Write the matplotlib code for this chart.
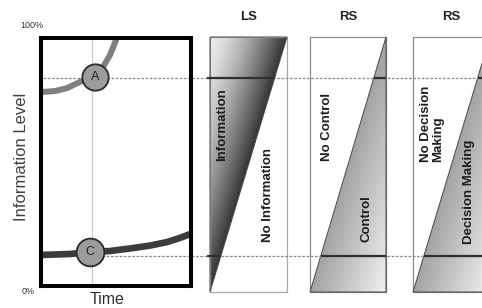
import numpy as np
import matplotlib
matplotlib.use("Agg")
import matplotlib.pyplot as plt
from matplotlib import transforms
from matplotlib.patches import Polygon, Rectangle

plt.rcParams['font.family'] = ['Liberation Sans', 'DejaVu Sans']

# ---------------- data ----------------
time_A = [0, 9.7, 17.7, 26.3, 36.3, 41.7, 46.3, 51.0]
info_A = [78.0, 78.4, 79.6, 82.1, 84.1, 88.1, 92.9, 100.0]
time_C = [0, 19.7, 33.0, 46.3, 61.7, 73.0, 84.3, 93.0, 100.0]
info_C = [12.3, 12.7, 13.5, 13.9, 15.1, 16.1, 17.5, 19.2, 20.8]
marker_names = ["A", "C"]
marker_time = [36.3, 33.0]
marker_info = [84.1, 13.5]
time_mark = 34.3
level_A = 83.7
level_C = 11.9
panel_titles = ["LS", "RS", "RS"]
panel_upper = ["Information", "No Control", "No Decision\nMaking"]
panel_lower = ["No Information", "Control", "Decision Making"]

# ---------------- layout ----------------
W, H = 482, 308
fig = plt.figure(figsize=(W / 100, H / 100), dpi=100)
ov = fig.add_axes([0, 0, 1, 1])
ov.set_xlim(0, W)
ov.set_ylim(H, 0)
ov.axis('off')

ax = fig.add_axes([40.5 / W, 1 - 285.5 / H, 150 / W, 248 / H])
ax.set_facecolor('none')
ax.set_xlim(0, 100)
ax.set_ylim(0, 100)
ax.set_xticks([])
ax.set_yticks([])
for s in ax.spines.values():
    s.set_linewidth(2.9)
    s.set_color('black')
    s.set_zorder(5)

bt = transforms.blended_transform_factory(ov.transData, ax.transData)

def level_px(lvl):
    return H - ax.transData.transform((0, lvl))[1]

# chart content
ax.axvline(time_mark, color='#c8c8c8', lw=0.8, zorder=1)
ax.plot(time_A, info_A, color='#808080', lw=4.3, solid_capstyle='butt', zorder=2)
ax.plot(time_C, info_C, color='#3c3c3c', lw=4.8, solid_capstyle='butt', zorder=2)
for name, tx, iy, ms in zip(marker_names, marker_time, marker_info, [19, 20]):
    ax.plot([tx], [iy], marker='o', ms=ms, mfc='#9c9c9c', mec='#2a2a2a', mew=1.3, zorder=6, clip_on=False)
    ax.text(tx, iy, name, ha='center', va='center', fontsize=9, color='#222222', zorder=7)

# dotted level lines
dots = dict(ls=(0, (2.2, 1.2)), color='#8a8a8a', lw=0.9, clip_on=False, zorder=1.5)
ax.plot([43, W], [level_A, level_A], transform=bt, **dots)
ax.plot([102, W], [level_C, level_C], transform=bt, **dots)

# panels
panels = [(210, 287, 'LS'), (310, 386, 'RS'), (413, 490, 'RS')]
top, bot = 37, 292
for i, (x0, x1, kind) in enumerate(panels):
    w = x1 - x0
    nx, ny = 120, 300
    u = np.linspace(0, 1, nx)[None, :]
    v = np.linspace(0, 1, ny)[:, None]
    if kind == 'LS':
        s = np.clip(u + v, 0, 1)
        g = 0.93 - 0.72 * s ** 1.4
        tri = [(x0, top), (x1, top), (x0, bot)]
        rect_col = '#a8a8a8'
    else:
        s = np.clip(u + v - 1, 0, 1)
        g = 0.64 + 0.3 * s
        tri = [(x1, top), (x1, bot), (x0, bot)]
        rect_col = '#8c8c8c'
    im = ov.imshow(g, cmap='gray', vmin=0, vmax=1, extent=(x0, x1, bot, top),
                   origin='upper', aspect='auto', interpolation='bilinear', zorder=1)
    poly = Polygon(tri, closed=True, transform=ov.transData)
    im.set_clip_path(poly)
    ov.add_patch(Rectangle((x0, top), w, bot - top, fill=False, ec=rect_col, lw=0.9, zorder=2))
    ov.add_patch(Polygon(tri, closed=True, fill=False, ec='#4a4a4a', lw=0.7, zorder=2))
    ov.text((x0 + x1) / 2, 17, panel_titles[i], ha='center', va='center',
            fontsize=9.5, fontweight='bold', color='#222222')
    # level lines across triangle
    for lvl in (level_A, level_C):
        yp = level_px(lvl)
        vv = (yp - top) / (bot - top)
        if kind == 'LS':
            xa, xb = x0 - 3, x0 + w * (1 - vv)
        else:
            xa, xb = x0 + w * (1 - vv), x1
        ax.plot([xa, xb], [lvl, lvl], transform=bt, color='#303030', lw=1.6,
                clip_on=False, zorder=3, solid_capstyle='butt')
ov.set_xlim(0, W)
ov.set_ylim(H, 0)

# panel texts
tkw = dict(rotation=90, ha='center', va='center', fontsize=9.5, fontweight='bold', color='#1e1e1e')
ov.text(222, 125, panel_upper[0], **tkw)
ov.text(268, 195, panel_lower[0], **tkw)
ov.text(327, 127, panel_upper[1], **tkw)
ov.text(367, 219, panel_lower[1], **tkw)
ov.text(432, 124, panel_upper[2], multialignment='left', linespacing=1.1, **tkw)
ov.text(469, 192, panel_lower[2], **tkw)

# axis texts
ov.text(22, 157, "Information Level", rotation=90, ha='center', va='center', fontsize=12, color='#404040')
ov.text(107, 299, "Time", ha='center', va='center', fontsize=11.5, color='#303030')
ov.text(32, 25, "100%", ha='center', va='center', fontsize=6.5, color='#333333')
ov.text(28, 291, "0%", ha='center', va='center', fontsize=6.5, color='#333333')

fig.savefig("out.png", dpi=100)
